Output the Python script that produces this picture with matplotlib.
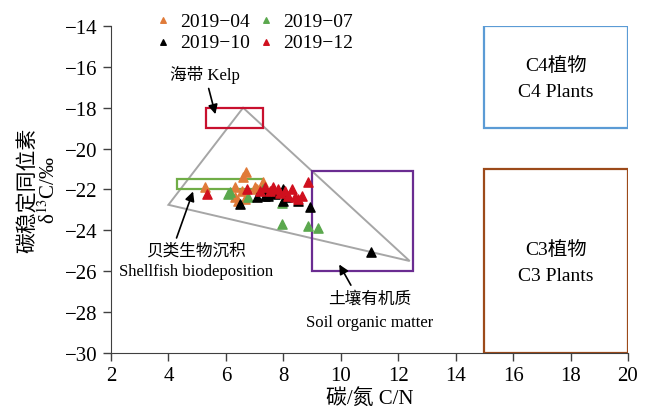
import matplotlib
matplotlib.use('Agg')
import matplotlib.pyplot as plt
from matplotlib.patches import Rectangle, Polygon

plt.rcParams['font.family'] = ['Liberation Serif', 'Noto Sans CJK SC', 'DejaVu Sans']
plt.rcParams['mathtext.fontset'] = 'stix'

# C/N ratio and delta13C for each sampling month
cn_04 = [5.27, 6.70, 6.60, 6.32, 6.32, 6.42, 6.67, 7.01, 7.30, 7.08, 6.55]
d13c_04 = [-21.88, -21.14, -21.39, -21.88, -22.37, -22.56, -22.46, -21.88, -21.63, -21.97, -22.05]

cn_07 = [6.14, 6.07, 6.77, 7.30, 7.95, 7.95, 8.86, 9.21]
d13c_07 = [-22.12, -22.22, -22.37, -21.97, -22.65, -23.69, -23.78, -23.88]

cn_10 = [6.49, 7.07, 7.36, 7.47, 7.71, 7.99, 7.99, 8.13, 8.51, 8.93, 11.05]
d13c_10 = [-22.71, -22.37, -22.32, -22.32, -22.22, -21.97, -22.56, -22.37, -22.56, -22.85, -25.05]

cn_12 = [5.33, 6.72, 7.36, 7.64, 7.81, 8.06, 8.16, 8.41, 8.51, 8.65, 8.86, 7.54, 7.88, 8.30, 7.19]
d13c_12 = [-22.22, -21.97, -21.88, -21.88, -21.97, -22.07, -22.32, -22.37, -22.46, -22.32, -21.63,
           -22.07, -22.17, -21.97, -22.07]

# source end-member ranges: (x0, x1, y0, y1)
kelp_box = (5.3, 7.3, -19.0, -18.0)
shell_box = (4.3, 7.3, -22.0, -21.5)
soil_box = (9.0, 12.5, -26.0, -21.1)
c4_box = (15.0, 20.0, -19.0, -14.0)
c3_box = (15.0, 20.0, -30.0, -21.0)
mix_triangle = [(6.6, -18.0), (4.0, -22.75), (12.4, -25.5)]

fig = plt.figure(figsize=(6.54, 4.10), dpi=100)
ax = fig.add_axes([0.1697, 0.1366, 0.7905, 0.7976])

h04 = ax.scatter(cn_04, d13c_04, marker='^', s=44, color='#E07B39', label='2019\u221204', zorder=3)
h07 = ax.scatter(cn_07, d13c_07, marker='^', s=44, color='#5BA84E', label='2019\u221207', zorder=3)
h10 = ax.scatter(cn_10, d13c_10, marker='^', s=44, color='black', label='2019\u221210', zorder=4)
h12 = ax.scatter(cn_12, d13c_12, marker='^', s=44, color='#D0101E', label='2019\u221212', zorder=5)

def box(r, color):
    x0, x1, y0, y1 = r
    ax.add_patch(Rectangle((x0, y0), x1 - x0, y1 - y0, fill=False, edgecolor=color, lw=1.6, zorder=2))

box(kelp_box, '#C8102E')
box(shell_box, '#70AD47')
box(soil_box, '#6A2C91')
box(c4_box, '#5B9BD5')
box(c3_box, '#9C4A1A')
ax.add_patch(Polygon(mix_triangle, closed=True, fill=False, edgecolor='#A6A6A6', lw=1.4, zorder=1))

arrow = dict(arrowstyle='-|>', color='black', lw=1.2, mutation_scale=14)
ax.annotate('海带 Kelp', xy=(5.66, -18.45), xytext=(5.27, -16.35), fontsize=12,
            ha='center', va='center', arrowprops=arrow)
ax.annotate('', xy=(4.89, -21.97), xytext=(4.25, -24.5), arrowprops=arrow)
ax.text(4.96, -25.0, '贝类生物沉积', fontsize=12, ha='center', va='center')
ax.text(4.96, -26.0, 'Shellfish biodeposition', fontsize=12, ha='center', va='center')
ax.annotate('', xy=(9.9, -25.55), xytext=(10.4, -26.8), arrowprops=arrow)
ax.text(11.02, -27.36, '土壤有机质', fontsize=12, ha='center', va='center')
ax.text(11.02, -28.48, 'Soil organic matter', fontsize=12, ha='center', va='center')

ax.text(17.5, -15.9, 'C4植物', fontsize=14, ha='center', va='center')
ax.text(17.5, -17.2, 'C4 Plants', fontsize=14, ha='center', va='center')
ax.text(17.5, -24.9, 'C3植物', fontsize=14, ha='center', va='center')
ax.text(17.5, -26.2, 'C3 Plants', fontsize=14, ha='center', va='center')

ax.set_xlim(2, 20)
ax.set_ylim(-30, -14)
ax.set_xticks(range(2, 21, 2))
ax.set_yticks(range(-30, -13, 2))
ax.tick_params(labelsize=15, length=6, width=1, color='#404040', direction='out')
for side in ['top', 'right']:
    ax.spines[side].set_visible(False)
for side in ['left', 'bottom']:
    ax.spines[side].set_color('#404040')
ax.set_xlabel('碳/氮 C/N', fontsize=15, labelpad=2)
ax.set_ylabel('碳稳定同位素\n' + r'δ$^{\mathrm{13}}$C/‰', fontsize=15, labelpad=4, linespacing=0.95)

# column-major fill: 04/10 in the first column, 07/12 in the second
ax.legend([h04, h10, h07, h12], ['2019\u221204', '2019\u221210', '2019\u221207', '2019\u221212'],
          ncol=2, loc='upper left', bbox_to_anchor=(0.081, 1.043), frameon=False, fontsize=14,
          markerscale=0.6, handlelength=1.0, handletextpad=0.4, columnspacing=0.3,
          labelspacing=0.2, borderaxespad=0, borderpad=0)

fig.savefig('out.png', dpi=100)
